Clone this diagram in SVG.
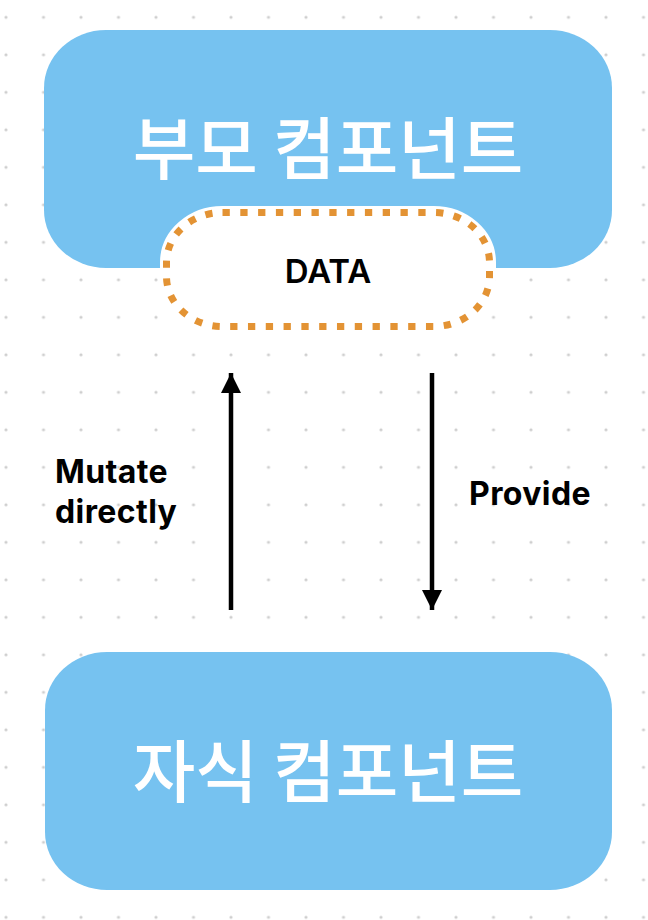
<svg xmlns="http://www.w3.org/2000/svg" width="648" height="920" viewBox="0 0 648 920">
  <defs>
    <pattern id="dots" patternUnits="userSpaceOnUse" x="-12.75" y="-1.45" width="37.5" height="37.5">
      <circle cx="18.75" cy="18.75" r="1.6" fill="#cfcfcf"/>
    </pattern>
    <marker id="arrow" viewBox="0 0 20 20" refX="20" refY="10" markerWidth="20" markerHeight="20" markerUnits="userSpaceOnUse" orient="auto">
      <path d="M0,0 L20,10 L0,20 Z" fill="#000"/>
    </marker>
    <style>
      .box { fill: #76C2F0; }
      .title { font-family: "Noto Sans CJK KR", "Noto Sans", sans-serif; font-weight: 500; font-size: 68px; fill: #ffffff; text-anchor: middle; }
      .label { font-family: Inter, "Liberation Sans", sans-serif; font-weight: 700; font-size: 32px; letter-spacing: 0.4px; fill: #000000; }
      .edge { stroke: #000; stroke-width: 4.5; fill: none; marker-end: url(#arrow); }
    </style>
  </defs>
  <rect width="648" height="920" fill="#ffffff"/>
  <rect width="648" height="920" fill="url(#dots)"/>

  <g id="parent">
    <rect class="box" x="44" y="30" width="568" height="238" rx="62" ry="58"/>
    <text class="title" x="328" y="174">부모 컴포넌트</text>
  </g>

  <g id="data">
    <rect x="166.5" y="212.5" width="323" height="114" rx="56" ry="50" fill="#ffffff" stroke="#ffffff" stroke-width="13"/>
    <rect x="166.5" y="212.5" width="323" height="114" rx="56" ry="50" fill="#ffffff" stroke="#E39334" stroke-width="7" stroke-dasharray="7.3 10.5"/>
    <text x="328" y="283" font-family="Inter, 'Liberation Sans', sans-serif" font-weight="600" font-size="33" text-anchor="middle" fill="#000">DATA</text>
  </g>

  <g id="child">
    <rect class="box" x="45" y="652" width="567" height="238" rx="62" ry="58"/>
    <text class="title" x="328" y="797">자식 컴포넌트</text>
  </g>

  <g id="connectors">
    <line class="edge" x1="231" y1="610" x2="231" y2="373"/>
    <line class="edge" x1="432" y1="373" x2="432" y2="610"/>
    <text class="label" x="55" y="483">Mutate</text>
    <text class="label" x="55" y="523">directly</text>
    <text class="label" x="469" y="505">Provide</text>
  </g>
</svg>
